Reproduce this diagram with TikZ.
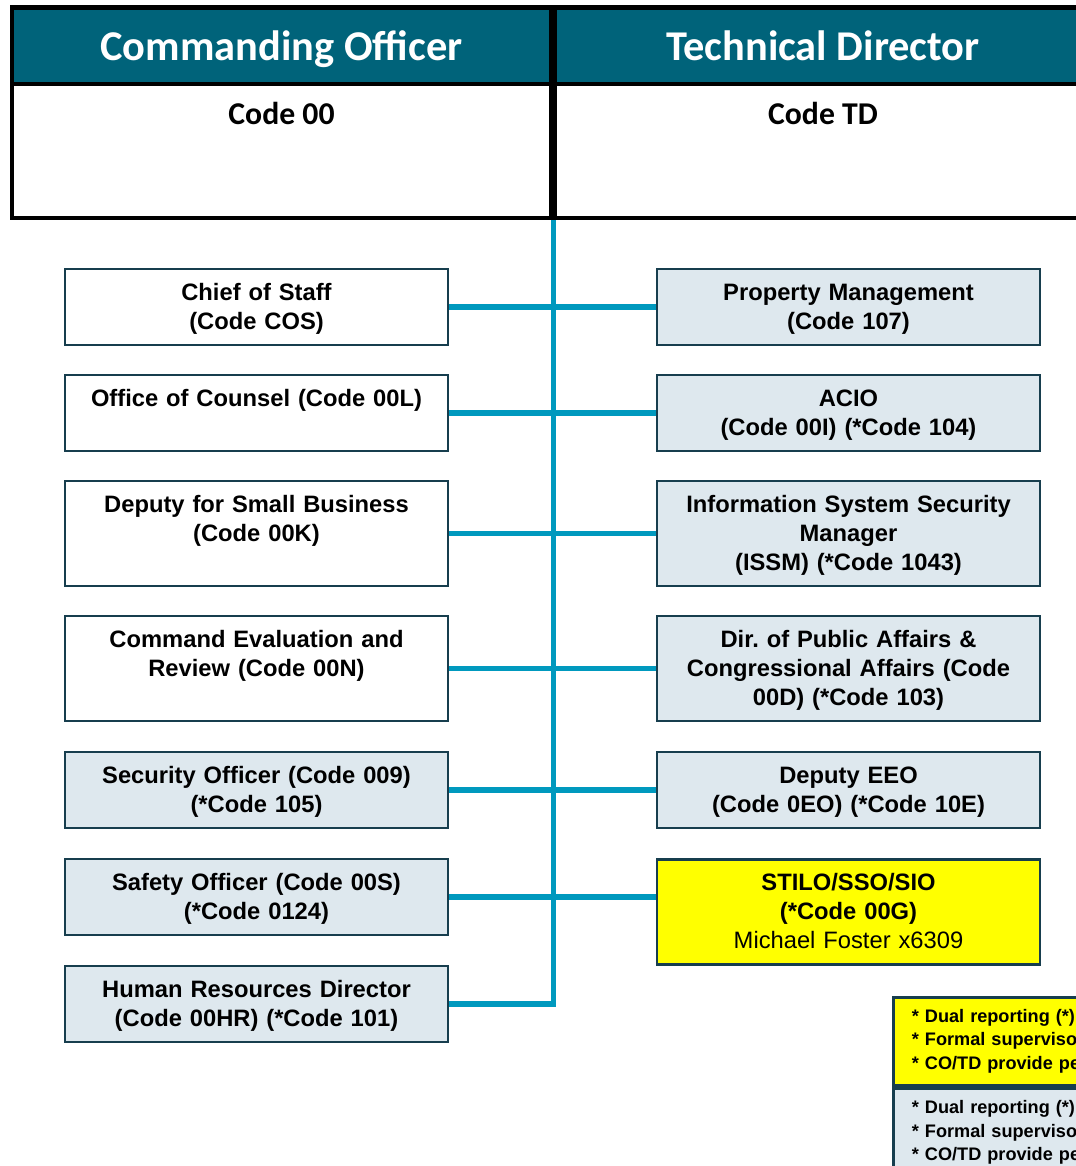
\documentclass[tikz,border=0pt]{standalone}
\usepackage{fontspec}
\setmainfont{Liberation Sans}
\newfontfamily\headfont{Carlito}
\definecolor{headteal}{RGB}{0,99,122}
\definecolor{linkblue}{RGB}{0,153,190}
\definecolor{boxline}{RGB}{23,62,78}
\definecolor{boxfill}{RGB}{222,232,238}
\definecolor{noteyellow}{RGB}{255,255,0}
\newcommand\topstrut{\rule{0pt}{18.2pt}}
\frenchspacing
\begin{document}
\begin{tikzpicture}[x=0.75pt,y=-0.75pt,
	headbar/.style={draw=black,line width=3.5pt,fill=headteal,text=white,minimum width=404.25pt,minimum height=57.4pt,inner sep=0pt,text height=39.75pt,text depth=17.65pt,font=\headfont\bfseries\fontsize{31.8}{38}\selectfont},
	headbody/.style={draw=black,line width=3.5pt,fill=white,minimum width=404.25pt,minimum height=100.5pt,inner sep=0pt,text height=30.3pt,text depth=70.2pt,font=\headfont\bfseries\fontsize{23.8}{28}\selectfont},
	unitbox/.style={draw=boxline,line width=2pt,fill=boxfill,minimum width=287.25pt,minimum height=57pt,inner sep=0pt,text width=287.25pt,align=center,font=\fontsize{17.8}{21.75}\selectfont\bfseries\frenchspacing,execute at begin node=\topstrut,execute at end node=\strut},
	tallbox/.style={unitbox,minimum height=78.75pt},
	notebox/.style={draw=boxline,line width=2.5pt,anchor=north west,text width=180pt,minimum height=66pt,inner xsep=14pt,inner ysep=0pt,align=left,font=\fontsize{13.6}{17.6}\selectfont\bfseries},
	link/.style={draw=linkblue,line width=4pt}]
	\useasboundingbox (0,0) rectangle (1075,1166);
	\node[headbar] (cohead) at (281.5,45.75) {Commanding Officer};
	\node[headbody] (cobody) at (281.5,151) {Code 00};
	\node[headbar,minimum width=408pt] (tdhead) at (823,45.75) {Technical Director};
	\node[headbody,minimum width=408pt] (tdbody) at (823,151) {Code TD};
	\draw[line width=6pt] (cohead.north east) -- (cobody.south east);
	\node[unitbox,fill=white] (cos) at (256.5,307) {Chief of Staff\\(Code COS)};
	\node[unitbox,fill=white] (counsel) at (256.5,413) {Office of Counsel (Code 00L)\\~};
	\node[tallbox,fill=white] (smallbiz) at (256.5,533.5) {Deputy for Small Business\\(Code 00K)\\~};
	\node[tallbox,fill=white] (evalrev) at (256.5,668.5) {Command Evaluation and\\Review (Code 00N)\\~};
	\node[unitbox] (security) at (256.5,790) {Security Officer (Code 009)\\(*Code 105)};
	\node[unitbox] (safety) at (256.5,897) {Safety Officer (Code 00S)\\(*Code 0124)};
	\node[unitbox] (hr) at (256.5,1004) {Human Resources Director\\(Code 00HR) (*Code 101)};
	\node[unitbox] (property) at (848.5,307) {Property Management\\(Code 107)};
	\node[unitbox] (acio) at (848.5,413) {ACIO\\(Code 00I) (*Code 104)};
	\node[tallbox] (issm) at (848.5,533.5) {Information System Security\\Manager\\(ISSM) (*Code 1043)};
	\node[tallbox] (pubaff) at (848.5,668.5) {Dir. of Public Affairs \&\\Congressional Affairs (Code\\00D) (*Code 103)};
	\node[unitbox] (eeo) at (848.5,790) {Deputy EEO\\(Code 0EO) (*Code 10E)};
	\node[tallbox,fill=noteyellow] (stilo) at (848.5,912) {STILO/SSO/SIO\\(*Code 00G)\\{\mdseries Michael Foster x6309}};
	\draw[link] (cobody.south east) |- (hr.east);
	\draw[link] (cos.east) -- (property.west);
	\draw[link] (counsel.east) -- (acio.west);
	\draw[link] (smallbiz.east) -- (issm.west);
	\draw[link] (evalrev.east) -- (pubaff.west);
	\draw[link] (security.east) -- (eeo.west);
	\draw[link] (safety.east) -- (safety.east -| stilo.west);
	\node[notebox,fill=noteyellow] (noteco) at (891.5,995.5) {* Dual reporting (*)\\{}* Formal superviso\\{}* CO/TD provide pe};
	\node[notebox,fill=boxfill] (notetd) at (noteco.south west) {* Dual reporting (*)\\{}* Formal superviso\\{}* CO/TD provide pe};
\end{tikzpicture}
\end{document}
